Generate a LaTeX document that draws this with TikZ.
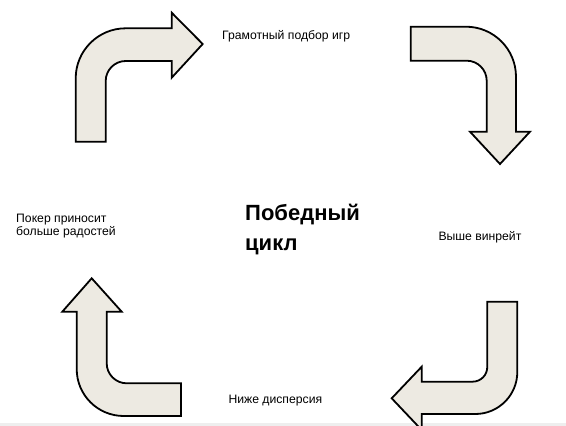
\documentclass[tikz,border=0pt]{standalone}
\usepackage{fontspec}
\setmainfont{Liberation Sans}
\definecolor{arrowfill}{RGB}{237,234,226}
\definecolor{bandgray}{RGB}{238,238,238}
\tikzset{
  bentarrow/.style={draw=black, line width=1.8pt, fill=arrowfill, line join=miter},
  lbl/.style={anchor=base west, inner sep=0pt, font=\fontsize{12.2}{13.4}\selectfont, align=left},
  titlelbl/.style={anchor=base west, inner sep=0pt, font=\fontsize{22}{29.3}\selectfont\bfseries, align=left}
}
\begin{document}
\begin{tikzpicture}[x=1pt,y=-1pt]
\useasboundingbox (0,0) rectangle (566,426);
\clip (0,0) rectangle (566,426);
\fill[bandgray] (0,423) rectangle (566,426);
% arrow 1 (top-left, turning right)
\path[bentarrow] (75.7,141.7) -- (75.7,78.3)
  .. controls (75.7,50.7) and (98.1,28.3) .. (125.7,28.3)
  -- (171.7,28.3) -- (171.7,12.7) -- (202.7,44) -- (171.7,77.7) -- (171.7,61)
  -- (125.7,61) .. controls (114.7,61) and (105.7,70) .. (105.7,81)
  -- (105.7,141.7) -- cycle;
% arrow 2 (top-right, turning down)
\path[bentarrow] (410.7,26.7) -- (466,26.7)
  .. controls (493.6,26.7) and (516,49.1) .. (516,76.7)
  -- (516,131.7) -- (530,131.7) -- (500,164) -- (470,131.7) -- (486.7,131.7)
  -- (486.7,80.7) .. controls (486.7,69.7) and (477.7,60.7) .. (466.7,60.7)
  -- (410.7,60.7) -- cycle;
% arrow 3 (bottom-left, turning up)
\path[bentarrow] (181,416) -- (123.7,416)
  .. controls (97.7,416) and (76.7,395) .. (76.7,369)
  -- (76.7,311.7) -- (62.3,311.7) -- (91.7,278.3) -- (121.7,311.7) -- (106.7,311.7)
  -- (106.7,363.3) .. controls (106.7,374.3) and (115.7,383.3) .. (126.7,383.3)
  -- (181,383.3) -- cycle;
% arrow 4 (bottom-right, turning left)
\path[bentarrow] (487.3,301.7) -- (517.3,301.7) -- (517.3,372)
  .. controls (517.3,395.2) and (498.5,414) .. (475.3,414)
  -- (421.7,414) -- (421.7,430) -- (391.7,398.3) -- (421.7,366.7) -- (421.7,381.7)
  -- (472.3,381.7) .. controls (480.6,381.7) and (487.3,375.4) .. (487.3,366.7)
  -- cycle;
% labels
\node[lbl] (games) at (222,39.5) {Грамотный подбор игр};
\node[lbl] (winrate) at (438.3,240) {Выше винрейт};
\node[lbl] (disp) at (228.3,403.3) {Ниже дисперсия};
\node[lbl] (joy) at (16,235.7) {Покер приносит\\больше радостей};
\node[titlelbl] (title) at (245,250) {Победный\\цикл};
\end{tikzpicture}
\end{document}
